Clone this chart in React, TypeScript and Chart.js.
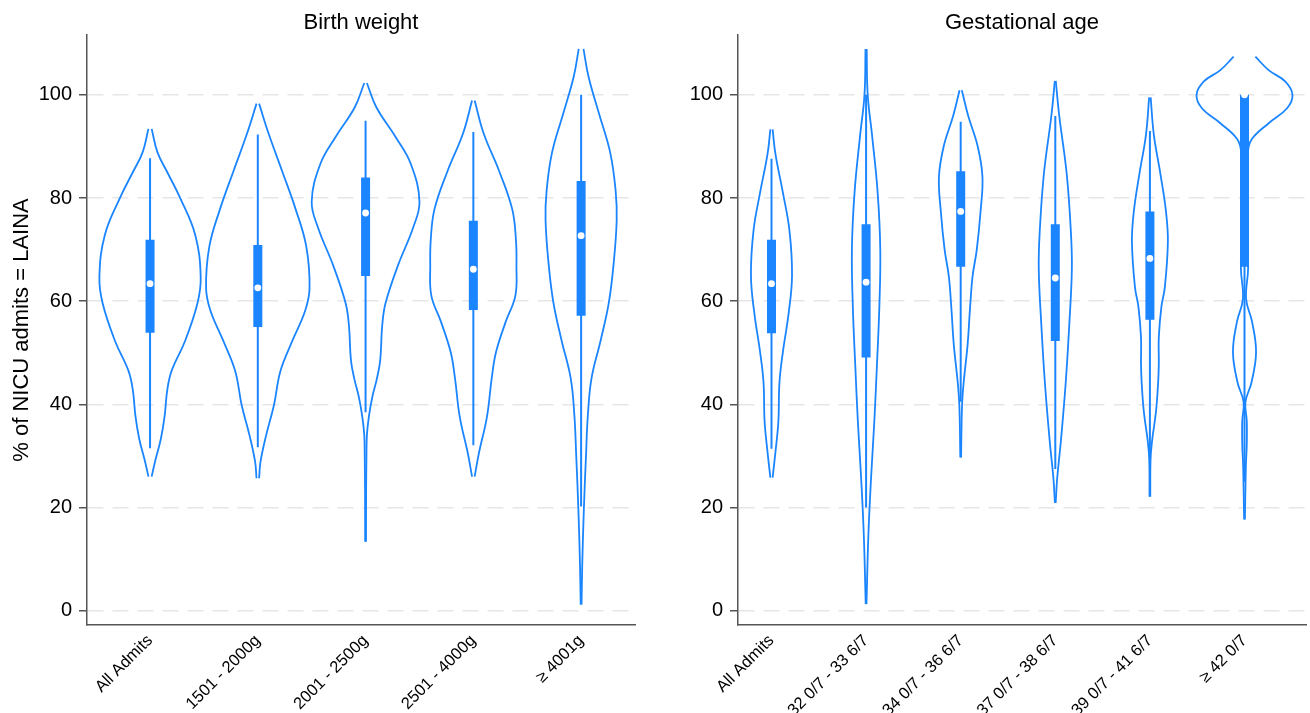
import React, { useEffect, useRef } from "react";
import { Chart, registerables } from "chart.js";

Chart.register(...registerables);

const FONT = "'Liberation Sans', Arial, Helvetica, sans-serif";
const BLUE = "#1a85ff";
const AXIS = "#555555";
const GRID = "#e6e6e6";

const yTicks = [0, 20, 40, 60, 80, 100];

// ---------- Birth weight ----------
const bwCategories = ["All Admits", "1501 - 2000g", "2001 - 2500g", "2501 - 4000g", "≥ 4001g"];
const bwMedian = [63.4, 62.6, 77.1, 66.2, 72.7];
const bwQ1 = [53.9, 55.0, 64.9, 58.3, 57.2];
const bwQ3 = [71.9, 70.9, 84.0, 75.6, 83.3];
const bwWhiskerLo = [31.5, 31.7, 38.5, 32.1, 20.2];
const bwWhiskerHi = [87.7, 92.3, 95.0, 92.8, 100];
// violin outline: y levels and half-widths (in category units)
const bwViolinY = [
  [26, 28.9, 33.3, 37.7, 42.8, 46.5, 52.3, 59.6, 64.7, 72.8, 80, 85, 88.8, 93.4],
  [25.7, 28.9, 34, 39.9, 46.5, 52.3, 58.2, 62.5, 70.6, 77.9, 85.2, 92.5, 98.3],
  [13.4, 23, 30, 34, 37.7, 41.4, 45, 48.6, 55.2, 59.6, 66.9, 74.2, 79.3, 86.6, 91.8, 97.6, 102.3],
  [26, 30.4, 37.7, 45, 50.1, 56, 61.1, 66.9, 72, 77.9, 85.2, 92.5, 98.9],
  [1.2, 8.5, 19.4, 30.4, 37.7, 45, 52.3, 59.6, 66.9, 75.7, 81.5, 88.8, 96.1, 103.4, 108.9],
];
const bwViolinW = [
  [0.015, 0.046, 0.1, 0.135, 0.16, 0.2, 0.325, 0.44, 0.47, 0.42, 0.28, 0.16, 0.07, 0.015],
  [0.012, 0.025, 0.077, 0.15, 0.21, 0.32, 0.44, 0.48, 0.45, 0.35, 0.226, 0.1, 0.012],
  [0.004, 0.005, 0.008, 0.012, 0.031, 0.062, 0.105, 0.136, 0.154, 0.185, 0.3, 0.44, 0.5, 0.42, 0.28, 0.1, 0.012],
  [0.012, 0.05, 0.127, 0.17, 0.21, 0.3, 0.39, 0.4, 0.395, 0.36, 0.24, 0.096, 0.012],
  [0.004, 0.01, 0.025, 0.046, 0.062, 0.096, 0.18, 0.256, 0.3, 0.33, 0.32, 0.27, 0.17, 0.07, 0.022],
];

// ---------- Gestational age ----------
const gaCategories = ["All Admits", "32 0/7 - 33 6/7", "34 0/7 - 36 6/7", "37 0/7 - 38 6/7", "39 0/7 - 41 6/7", "≥ 42 0/7"];
const gaMedian = [63.4, 63.7, 77.4, 64.5, 68.3, 100];
const gaQ1 = [53.8, 49.1, 66.7, 52.3, 56.4, 66.7];
const gaQ3 = [71.9, 74.9, 85.2, 74.9, 77.4, 100];
const gaWhiskerLo = [31.4, 20, 40.5, 27.5, 28.6, 25];
const gaWhiskerHi = [87.6, 100, 94.8, 95.9, 93, 100];
const gaViolinY = [
  [25.8, 30.8, 36.8, 44.2, 50.1, 57.5, 64.9, 73.7, 81.1, 88.5, 93.3],
  [1.3, 14.6, 25.6, 36.7, 47.8, 58.9, 70, 81.1, 92.2, 100, 108.9],
  [29.7, 39.7, 44.2, 51.6, 59, 64.9, 70, 77.4, 84.1, 90, 95.9, 100.9],
  [20.9, 25.7, 33.1, 44.2, 55.2, 66.3, 73.7, 84.8, 95.9, 102.7],
  [22.1, 29.4, 33.1, 36.8, 39.7, 44.2, 47.8, 53, 59, 62.6, 71.5, 77.4, 84.8, 92.2, 99.5],
  [17.7, 27.8, 32.4, 36.8, 40.5, 44.2, 50.1, 56, 60.4, 66.3, 75, 84.8, 89.3, 91.5, 94.5, 97.4, 100, 102.6, 104.8, 107.4],
];
const gaViolinW = [
  [0.012, 0.042, 0.073, 0.084, 0.12, 0.18, 0.217, 0.19, 0.12, 0.042, 0.012],
  [0.004, 0.024, 0.052, 0.087, 0.115, 0.14, 0.15, 0.122, 0.063, 0.017, 0.006],
  [0.004, 0.014, 0.031, 0.073, 0.1, 0.126, 0.17, 0.21, 0.23, 0.18, 0.08, 0.012],
  [0.004, 0.02, 0.06, 0.11, 0.147, 0.175, 0.164, 0.12, 0.042, 0.005],
  [0.004, 0.007, 0.024, 0.052, 0.07, 0.087, 0.094, 0.094, 0.122, 0.157, 0.19, 0.17, 0.11, 0.042, 0.008],
  [0.004, 0.014, 0.024, 0.024, 0.01, 0.073, 0.122, 0.08, 0.017, 0.038, 0.03, 0.03, 0.038, 0.08, 0.255, 0.45, 0.507, 0.43, 0.255, 0.115],
];

function buildDatasets(
  median: number[], q1: number[], q3: number[], lo: number[], hi: number[],
  vy: number[][], vw: number[][]
) {
  const ds: any[] = [];
  median.forEach((m, i) =>
    ds.push({
      data: [{ x: i, y: m }],
      showLine: false,
      pointRadius: 3.4,
      pointBackgroundColor: "#ffffff",
      pointBorderWidth: 0,
      order: 0,
    })
  );
  q1.forEach((q, i) =>
    ds.push({
      data: [{ x: i, y: q }, { x: i, y: q3[i] }],
      borderColor: BLUE,
      borderWidth: 9,
      borderCapStyle: "butt",
      pointRadius: 0,
      order: 1,
    })
  );
  lo.forEach((l, i) =>
    ds.push({
      data: [{ x: i, y: l }, { x: i, y: hi[i] }],
      borderColor: BLUE,
      borderWidth: 2,
      borderCapStyle: "butt",
      pointRadius: 0,
      order: 2,
    })
  );
  vy.forEach((ys, i) => {
    [-1, 1].forEach((side) =>
      ds.push({
        data: ys.map((y, k) => ({ x: i + side * vw[i][k], y })),
        borderColor: BLUE,
        borderWidth: 1.8,
        tension: 0.4,
        pointRadius: 0,
        order: 3,
      })
    );
  });
  return ds;
}

function makeConfig(opts: {
  cats: string[]; title: string; yTitle?: string; xMin: number; xMax: number;
  yWidth: number; padRight: number; datasets: any[];
}): any {
  return {
    type: "line",
    data: { datasets: opts.datasets },
    options: {
      responsive: false,
      animation: false,
      devicePixelRatio: 1,
      layout: { padding: { left: 0, right: opts.padRight, top: 0, bottom: 0 } },
      plugins: {
        legend: { display: false },
        tooltip: { enabled: false },
        title: {
          display: true,
          text: opts.title,
          fullSize: false,
          color: "#000",
          font: { family: FONT, size: 22, weight: "normal", lineHeight: 1 },
          padding: { top: 12, bottom: 1 },
        },
      },
      scales: {
        x: {
          type: "linear",
          min: opts.xMin,
          max: opts.xMax,
          afterBuildTicks: (scale: any) => {
            scale.ticks = opts.cats.map((_, i) => ({ value: i }));
          },
          afterFit: (scale: any) => {
            scale.height = 88;
          },
          grid: { display: false, drawTicks: false },
          border: { display: true, color: AXIS, width: 1.5 },
          ticks: {
            autoSkip: false,
            minRotation: 45,
            maxRotation: 45,
            padding: 6,
            color: "#000",
            font: { family: FONT, size: 16.5 },
            callback: (v: any) => opts.cats[Math.round(v)] ?? "",
          },
        },
        y: {
          type: "linear",
          min: -2.75,
          max: 111.6,
          afterBuildTicks: (scale: any) => {
            scale.ticks = yTicks.map((v) => ({ value: v }));
          },
          afterFit: (scale: any) => {
            scale.width = opts.yWidth;
          },
          grid: {
            display: true,
            color: GRID,
            lineWidth: 1.5,
            drawTicks: true,
            tickLength: 8,
            tickColor: AXIS,
            tickWidth: 1.5,
            tickBorderDash: [],
          },
          border: { display: true, color: AXIS, width: 1.5, dash: [16, 9] },
          ticks: {
            padding: 7,
            color: "#000",
            font: { family: FONT, size: 20 },
          },
          title: opts.yTitle
            ? {
                display: true,
                text: opts.yTitle,
                color: "#000",
                font: { family: FONT, size: 22, lineHeight: 1.2 },
                padding: { top: 9, bottom: 0 },
              }
            : { display: false },
        },
      },
    },
  };
}

function ChartCanvas(props: { config: any; left: number; width: number }) {
  const ref = useRef<HTMLCanvasElement>(null);
  useEffect(() => {
    if (!ref.current) return;
    const chart = new Chart(ref.current, props.config);
    return () => chart.destroy();
  }, []);
  return (
    <canvas
      ref={ref}
      width={props.width}
      height={713}
      style={{ position: "absolute", left: props.left, top: 0, width: props.width, height: 713 }}
    />
  );
}

export default function App() {
  const bwConfig = makeConfig({
    cats: bwCategories,
    title: "Birth weight",
    yTitle: "% of NICU admits = LAINA",
    xMin: -0.585,
    xMax: 4.5,
    yWidth: 87,
    padRight: 15,
    datasets: buildDatasets(bwMedian, bwQ1, bwQ3, bwWhiskerLo, bwWhiskerHi, bwViolinY, bwViolinW),
  });
  const gaConfig = makeConfig({
    cats: gaCategories,
    title: "Gestational age",
    xMin: -0.354,
    xMax: 5.65,
    yWidth: 83,
    padRight: 0,
    datasets: buildDatasets(gaMedian, gaQ1, gaQ3, gaWhiskerLo, gaWhiskerHi, gaViolinY, gaViolinW),
  });
  return (
    <div style={{ position: "absolute", left: 0, top: 0, width: 1310, height: 713, background: "#fff", overflow: "hidden" }}>
      <ChartCanvas config={bwConfig} left={0} width={650} />
      <ChartCanvas config={gaConfig} left={655} width={655} />
    </div>
  );
}
